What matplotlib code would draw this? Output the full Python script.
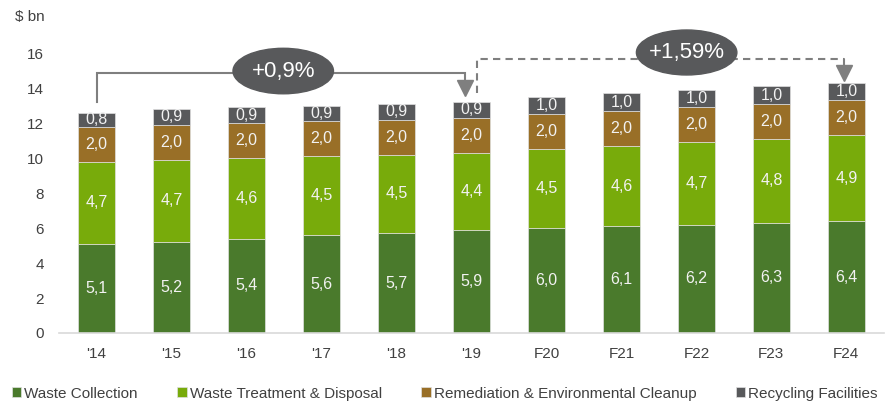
import matplotlib
matplotlib.use('Agg')
import matplotlib.pyplot as plt
from matplotlib.patches import Ellipse

plt.rcParams['font.family'] = ['Liberation Sans', 'DejaVu Sans']

YEARS = ["'14", "'15", "'16", "'17", "'18", "'19", 'F20', 'F21', 'F22', 'F23', 'F24']
WASTE_COLLECTION = [5.1, 5.2, 5.4, 5.6, 5.7, 5.9, 6.0, 6.1, 6.2, 6.3, 6.4]
WASTE_TREATMENT = [4.7, 4.7, 4.6, 4.5, 4.5, 4.4, 4.5, 4.6, 4.7, 4.8, 4.9]
REMEDIATION = [2.0, 2.0, 2.0, 2.0, 2.0, 2.0, 2.0, 2.0, 2.0, 2.0, 2.0]
RECYCLING = [0.8, 0.9, 0.9, 0.9, 0.9, 0.9, 1.0, 1.0, 1.0, 1.0, 1.0]

SERIES = [
    ('Waste Collection', WASTE_COLLECTION, '#4a7a2c'),
    ('Waste Treatment & Disposal', WASTE_TREATMENT, '#78ab0b'),
    ('Remediation & Environmental Cleanup', REMEDIATION, '#996f27'),
    ('Recycling Facilities', RECYCLING, '#58595b'),
]

CAGR_HIST = '+0,9%'
CAGR_FCST = '+1,59%'
GREY = '#7f7f7f'
BUBBLE = '#58595b'

fig = plt.figure(figsize=(8.85, 4.03), dpi=100)
ax = fig.add_axes([0.0667, 0.1737, 0.932, 0.7816])

x = list(range(len(YEARS)))
bottom = [0.0] * len(YEARS)
handles = []
for name, vals, col in SERIES:
    bars = ax.bar(x, vals, 0.49, bottom=bottom, color=col, edgecolor='#e0e0e0',
                  linewidth=0.5, label=name)
    handles.append(bars)
    for xi, b, v in zip(x, bottom, vals):
        ax.text(xi, b + v / 2, f'{v:.1f}'.replace('.', ','), ha='center', va='center',
                color='#f2f2f2', fontsize=11.5)
    bottom = [b + v for b, v in zip(bottom, vals)]

ax.set_xlim(-0.5, 10.5)
ax.set_ylim(0, 18)
ax.set_yticks(range(0, 17, 2))
ax.set_xticks(x)
ax.set_xticklabels(YEARS)
ax.tick_params(axis='both', length=0, labelsize=11, colors='#404040')
ax.tick_params(axis='y', pad=11)
ax.tick_params(axis='x', pad=10)
for s in ('top', 'right', 'left'):
    ax.spines[s].set_visible(False)
ax.spines['bottom'].set_color('#d9d9d9')
ax.spines['bottom'].set_linewidth(1.2)

fig.text(0.017, 0.958, '$ bn', fontsize=11, color='#404040', va='center')

# historic growth bracket ('14 -> '19)
ax.plot([0, 0, 4.91, 4.91], [13.2, 14.87, 14.87, 14.1], color=GREY, lw=1.5,
        solid_joinstyle='miter', zorder=3)
ax.plot(4.91, 14.0, marker='v', ms=11, color=GREY, mec=GREY, zorder=3)
ax.add_patch(Ellipse((2.49, 14.97), 1.34, 2.6, color=BUBBLE, zorder=4))
ax.text(2.49, 14.97, CAGR_HIST, ha='center', va='center', color='white',
        fontsize=16, zorder=5)

# forecast growth bracket ('19 -> F24)
ax.plot([5.07, 5.07, 9.97, 9.97], [13.73, 15.66, 15.66, 14.95], color=GREY, lw=1.5,
        ls=(0, (3.5, 2.5)), zorder=3)
ax.plot(9.97, 14.86, marker='v', ms=11, color=GREY, mec=GREY, zorder=3)
ax.add_patch(Ellipse((7.87, 16.03), 1.34, 2.57, color=BUBBLE, zorder=4))
ax.text(7.87, 16.03, CAGR_FCST, ha='center', va='center', color='white',
        fontsize=16, zorder=5)

fig.legend(handles=handles, loc='lower left', bbox_to_anchor=(-0.002, -0.028), ncol=4,
           frameon=False, fontsize=11, handlelength=0.6, handleheight=0.6,
           handletextpad=0.2, columnspacing=2.6, labelcolor='#404040')

fig.savefig('out.png', dpi=100)
